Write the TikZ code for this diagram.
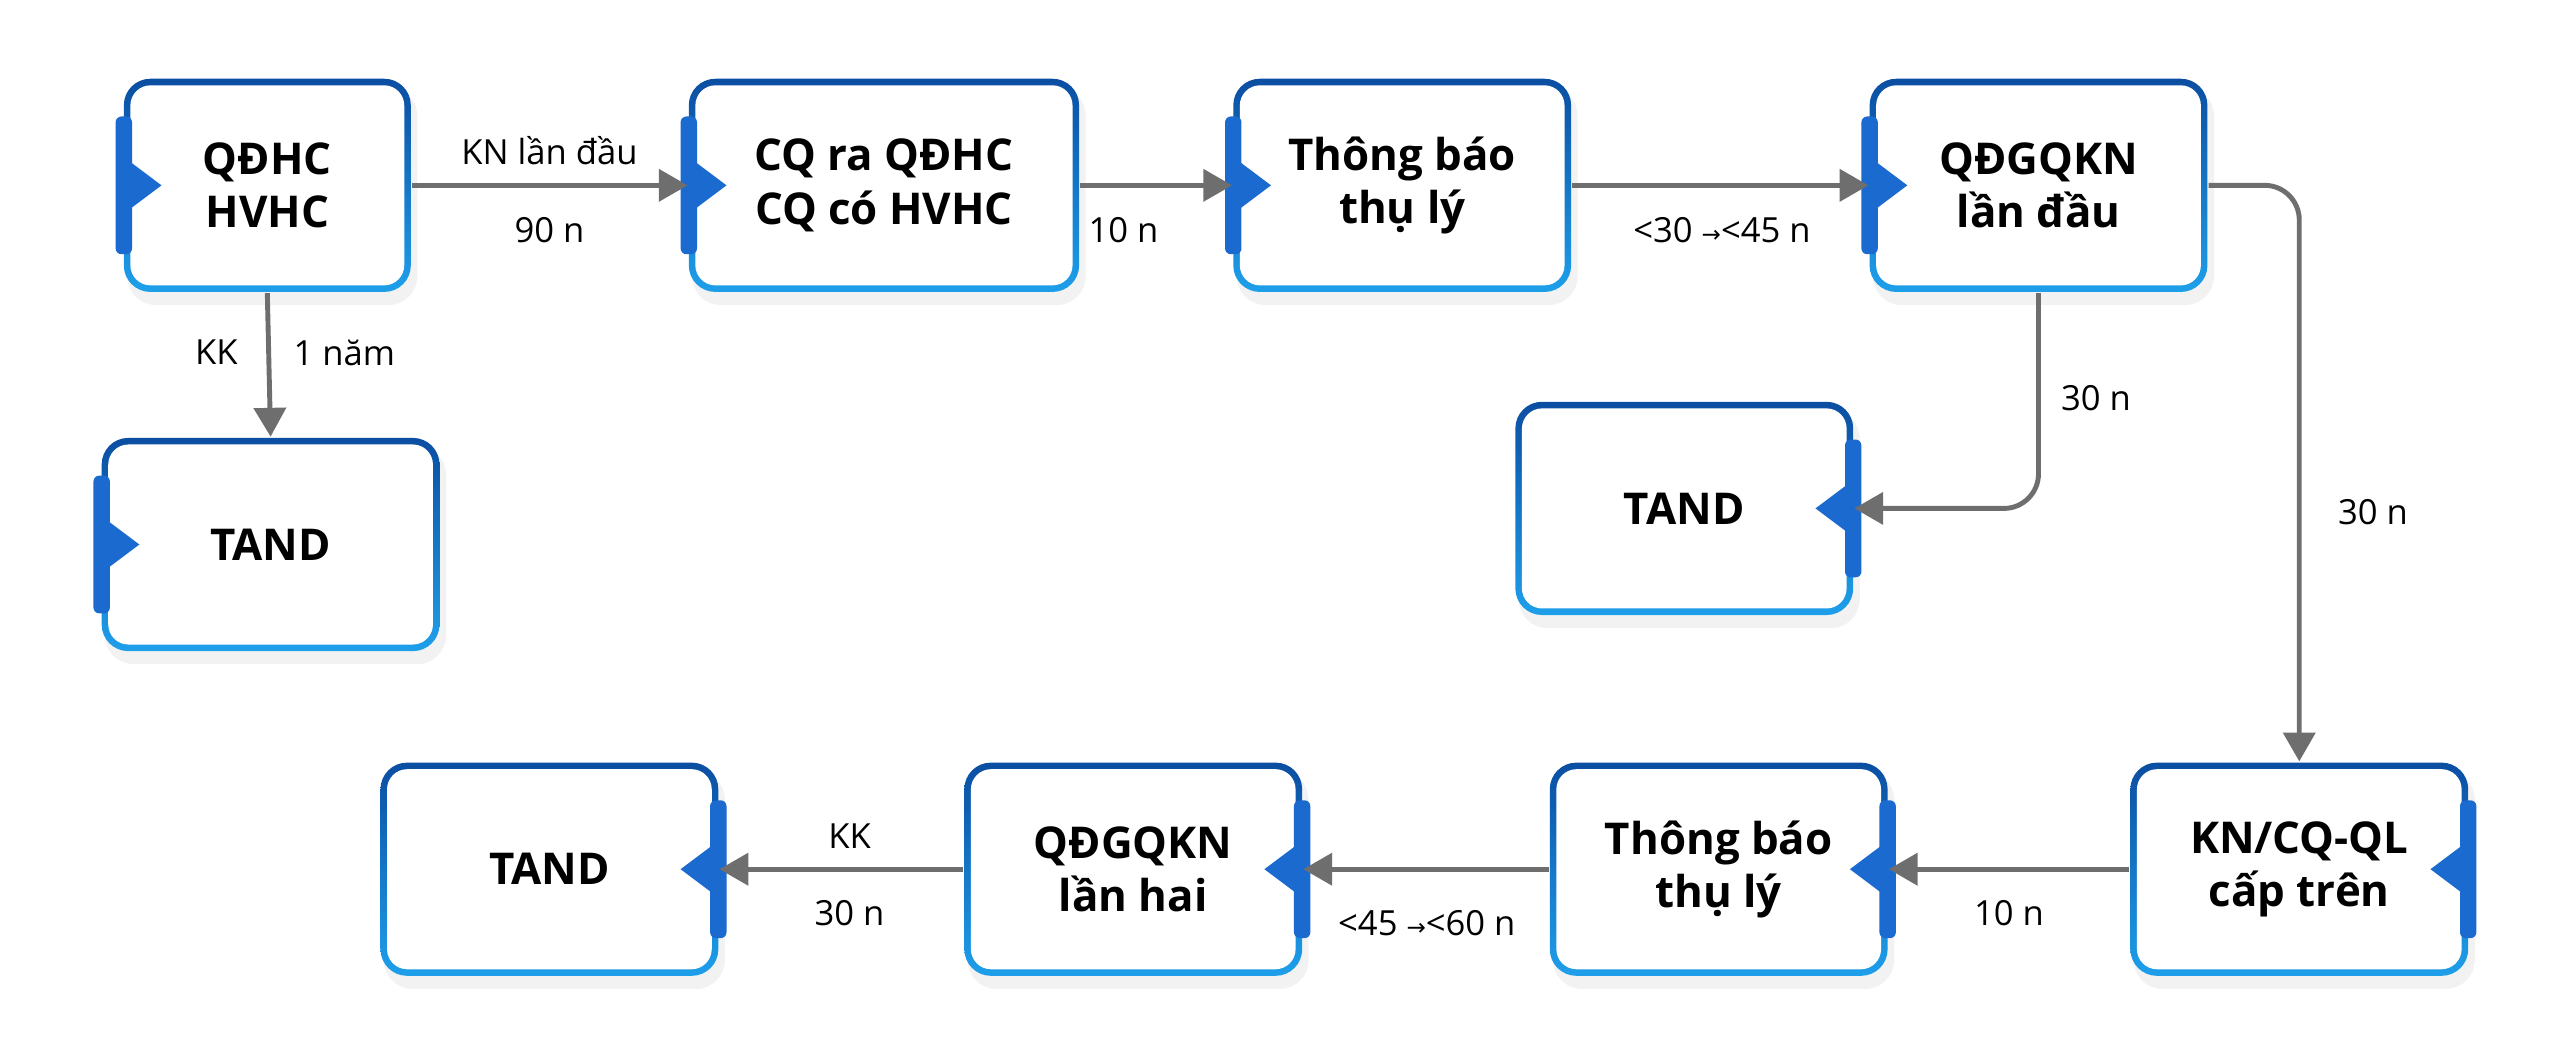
\documentclass[tikz,border=0pt]{standalone}
\usepackage{fontspec}
\setmainfont{Open Sans}
\newfontfamily\symf{DejaVu Sans}
\usetikzlibrary{arrows.meta}
\definecolor{bdark}{HTML}{0B4EA2}
\definecolor{blight}{HTML}{1E9FEA}
\definecolor{tabb}{HTML}{1B6ACF}
\definecolor{arrg}{HTML}{6E6E6E}
\newcommand\sar{{\symf\fontsize{4}{4}\selectfont →}}
% name, cx, cy, width(px), text, side(1 = left tab, -1 = right tab)
\newcommand\mybox[6]{%
  \fill[black,opacity=.05,rounded corners=5pt] (#2-#4/2+2,#3-65+5) rectangle (#2+#4/2+4,#3+65+8);
  \shade[top color=bdark,bottom color=blight,rounded corners=4.6pt] (#2-#4/2,#3-65) rectangle (#2+#4/2,#3+65);
  \fill[white,rounded corners=3.5pt] (#2-#4/2+4,#3-61) rectangle (#2+#4/2-4,#3+61);
  \fill[tabb,rounded corners=1pt] (#2-#6*#4/2-#6*5,#3-42) rectangle (#2-#6*#4/2+#6*5,#3+42);
  \fill[tabb] (#2-#6*#4/2+#6*3,#3-15) -- (#2-#6*#4/2+#6*23,#3) -- (#2-#6*#4/2+#6*3,#3+15) -- cycle;
  \node[box,minimum width=#4*0.01cm] (#1) at (#2,#3) {#5};}
\begin{document}
\begin{tikzpicture}[x=0.01cm,y=-0.01cm,
  box/.style={minimum height=1.3cm,inner sep=0pt,align=center,font=\fontsize{7.6}{9.2}\selectfont\bfseries},
  arr/.style={draw=arrg,line width=0.85pt,-{Triangle[length=5pt,width=5.5pt]}},
  lbl/.style={font=\fontsize{6}{7}\selectfont,inner sep=0pt}]
\path[use as bounding box] (0,0) rectangle (1561,641);
\mybox{a}{163}{113}{175}{QĐHC\\HVHC}{1}
\mybox{b}{539}{113}{238}{CQ ra QĐHC\\CQ có HVHC}{1}
\mybox{c}{855}{113}{206}{Thông báo\\thụ lý}{1}
\mybox{d}{1243}{113}{206}{QĐGQKN\\lần đầu}{1}
\mybox{e}{165}{332}{206}{TAND}{1}
\mybox{f}{1027}{310}{206}{TAND}{-1}
\mybox{g}{1402}{530}{206}{KN/CQ-QL\\cấp trên}{-1}
\mybox{h}{1048}{530}{206}{Thông báo\\thụ lý}{-1}
\mybox{i}{691}{530}{206}{QĐGQKN\\lần hai}{-1}
\mybox{j}{335}{530}{206}{TAND}{-1}
\draw[arr] (a.east) -- (b.west);
\draw[arr] (b.east) -- (c.west);
\draw[arr] (c.east) -- (d.west);
\draw[arr] (a.south) -- (e.north);
\draw[arr,rounded corners=6pt] (d.south) |- (f.east);
\draw[arr,rounded corners=6pt] (d.east) -| (g.north);
\draw[arr] (g.west) -- (h.east);
\draw[arr] (h.west) -- (i.east);
\draw[arr] (i.west) -- (j.east);
\node[lbl] (l1) at (335,92) {KN lần đầu};
\node[lbl] (l2) at (335,140) {90 n};
\node[lbl] (l3) at (685,140) {10 n};
\node[lbl] (l4) at (1050,140) {<30 \sar<45 n};
\node[lbl] (l5) at (132,215) {KK};
\node[lbl] (l6) at (210,215) {1 năm};
\node[lbl] (l7) at (1278,243) {30 n};
\node[lbl] (l8) at (1447,312) {30 n};
\node[lbl] (l9) at (1225,557) {10 n};
\node[lbl] (l10) at (870,563) {<45 \sar<60 n};
\node[lbl] (l11) at (518,510) {KK};
\node[lbl] (l12) at (518,557) {30 n};
\end{tikzpicture}
\end{document}
